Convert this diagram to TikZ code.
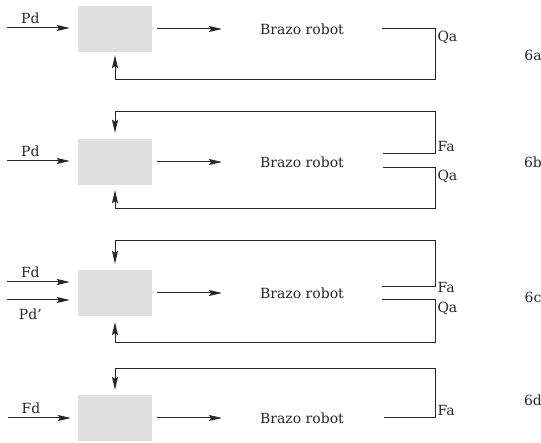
\documentclass[tikz,border=0pt]{standalone}
\usepackage{fontspec}
\setmainfont{DejaVu Serif}
\usetikzlibrary{arrows.meta}

\begin{document}
\begin{tikzpicture}[
  x=1pt,y=-1pt,
  every node/.style={font=\fontsize{14}{16}\selectfont,text=black!85},
  ctrl/.style={fill=gray!25,minimum width=74pt,minimum height=46pt,inner sep=0pt},
  robot/.style={inner sep=2pt},
  tag/.style={inner sep=2pt},
  sig/.style={black!85,line width=1pt,-{Stealth[length=13pt,width=6pt,inset=2pt]}}
]
  \useasboundingbox (0,0) rectangle (541,443);

  % 6a: posicion
  \node[ctrl] (ca) at (115,29) {};
  \node[robot] (ra) at (302,29) {Brazo robot};
  \coordinate (pda) at (7,28);
  \coordinate (qaa) at (382,29);
  \draw[sig,shorten >=8pt] (pda) -- node[above,pos=0.33]{Pd} (pda -| ca.west);
  \draw[sig,shorten <=5pt,shorten >=36pt] (ca) -- (ra);
  \draw[sig,shorten >=3pt] (qaa) -| node[tag,below right]{Qa} (435,80) -| (ca.south);
  \node (na) at (533,55) {6a};

  % 6b: fuerza y posicion
  \node[ctrl] (cb) at (115,162) {};
  \node[robot] (rb) at (302,162) {Brazo robot};
  \coordinate (pdb) at (7,161);
  \coordinate (fab) at (383,154);
  \coordinate (qab) at (383,168);
  \draw[sig,shorten >=8pt] (pdb) -- node[above,pos=0.33]{Pd} (pdb -| cb.west);
  \draw[sig,shorten <=5pt,shorten >=36pt] (cb) -- (rb);
  \draw[sig,shorten >=6pt] (fab) -| node[tag,above right]{Fa} (435,112) -| (cb.north);
  \draw[sig,shorten >=5pt] (qab) -| node[tag,below right]{Qa} (435,209) -| (cb.south);
  \node (nb) at (533,162) {6b};

  % 6c: dos consignas
  \node[ctrl] (cc) at (115,293) {};
  \node[robot] (rc) at (302,293) {Brazo robot};
  \coordinate (fdc) at (7,282);
  \coordinate (pdc) at (7,300);
  \coordinate (fac) at (382,287);
  \coordinate (qac) at (382,300);
  \draw[sig,shorten >=8pt] (fdc) -- node[above,pos=0.33]{Fd} (fdc -| cc.west);
  \draw[sig,shorten >=8pt] (pdc) -- node[below=5pt,pos=0.33]{Pd'} (pdc -| cc.west);
  \draw[sig,shorten <=5pt,shorten >=36pt] (cc) -- (rc);
  \draw[sig,shorten >=6pt] (fac) -| node[tag,right]{Fa} (435,241) -| (cc.north);
  \draw[sig,shorten >=6pt] (qac) -| node[tag,below right]{Qa} (435,343) -| (cc.south);
  \node (nc) at (533,297) {6c};

  % 6d: fuerza
  \node[ctrl] (cd) at (115,418) {};
  \node[robot] (rd) at (302,418) {Brazo robot};
  \coordinate (fdd) at (8,418);
  \coordinate (fad) at (384,418);
  \draw[sig,shorten >=7pt] (fdd) -- node[above,pos=0.33]{Fd} (fdd -| cd.west);
  \draw[sig,shorten <=5pt,shorten >=36pt] (cd) -- (rd);
  \draw[sig,shorten >=5pt] (fad) -| node[tag,above right]{Fa} (435,369) -| (cd.north);
  \node (nd) at (533,400) {6d};
\end{tikzpicture}
\end{document}
